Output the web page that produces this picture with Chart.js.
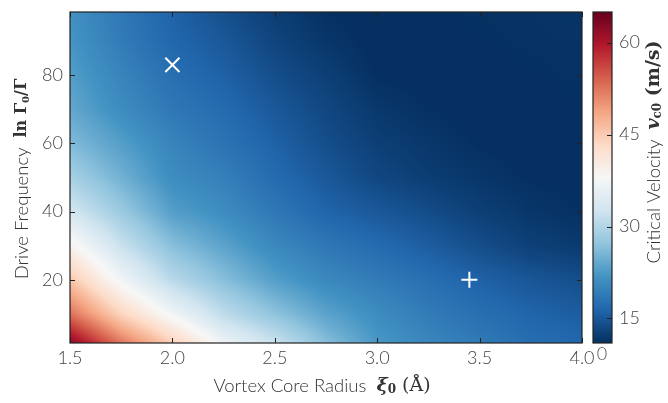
<!DOCTYPE html>
<html>
<head>
<meta charset="utf-8">
<script src="https://cdn.jsdelivr.net/npm/chart.js@4.4.1/dist/chart.umd.min.js"></script>
<style>
  html, body { margin: 0; padding: 0; background: #fff; }
</style>
</head>
<body>
<canvas id="chart" width="668" height="403"></canvas>
<script>
// grid nodes
const radiusNodes = [1.5, 1.75, 2.0, 2.25, 2.5, 2.75, 3.0, 3.25, 3.5, 3.75, 4.0];
const frequencyNodes = [100, 90, 80, 70, 60, 50, 40, 30, 20, 10, 0];
// critical velocity (m/s), one row per frequency node, top row first
const velocity = [
    [21.5, 18.5, 16.0, 14.0, 12.3, 11.0, 10.8, 11.0, 11.2, 11.3, 11.5],
    [22.0, 19.0, 16.5, 15.0, 13.0, 11.6, 10.7, 10.8, 11.0, 11.2, 11.3],
    [23.0, 20.0, 17.5, 15.9, 14.0, 12.5, 11.0, 10.7, 10.8, 11.0, 11.2],
    [24.0, 21.0, 18.5, 17.0, 15.0, 13.3, 11.8, 11.1, 10.7, 10.8, 11.0],
    [26.0, 23.0, 20.0, 18.0, 16.0, 14.0, 12.5, 11.7, 11.0, 10.7, 10.8],
    [29.0, 25.0, 21.0, 19.5, 17.0, 15.0, 13.3, 12.3, 11.6, 11.0, 10.8],
    [33.0, 28.0, 23.0, 21.0, 18.5, 16.3, 15.0, 13.8, 12.5, 11.6, 11.1],
    [39.0, 32.0, 26.5, 23.5, 20.5, 18.5, 17.0, 15.5, 14.0, 12.6, 12.0],
    [45.5, 37.0, 30.5, 26.5, 23.0, 20.5, 19.0, 17.5, 16.0, 14.8, 14.0],
    [53.0, 44.0, 37.0, 31.0, 27.0, 23.5, 21.0, 19.0, 17.5, 16.3, 15.5],
    [64.0, 54.0, 46.0, 37.5, 33.0, 27.0, 22.5, 20.5, 19.0, 17.5, 16.8]
];

// markers
const crossPoint = [{ x: 2.0, y: 83 }];
const plusPoint = [{ x: 3.45, y: 20 }];

// axes
const xTicks = [1.5, 2.0, 2.5, 3.0, 3.5, 4.0];
const yTicks = [20, 40, 60, 80];
const cbTicks = [15, 30, 45, 60];
const xRange = [1.5, 4.0];
const yRange = [1.5, 98.5];
const cbRange = [11, 65];

// RdBu reversed
const cmap = ['#053061', '#2166ac', '#4393c3', '#92c5de', '#d1e5f0', '#f7f7f7',
              '#fddbc7', '#f4a582', '#d6604d', '#b2182b', '#67001f'].map(h => [
    parseInt(h.slice(1, 3), 16), parseInt(h.slice(3, 5), 16), parseInt(h.slice(5, 7), 16)]);

function colorFor(v) {
    let t = (v - cbRange[0]) / (cbRange[1] - cbRange[0]);
    t = Math.max(0, Math.min(1, t)) * (cmap.length - 1);
    const i = Math.min(Math.floor(t), cmap.length - 2);
    const f = t - i;
    const a = cmap[i], b = cmap[i + 1];
    return [a[0] + (b[0] - a[0]) * f, a[1] + (b[1] - a[1]) * f, a[2] + (b[2] - a[2]) * f];
}

function findIndex(nodes, v) {
    // returns [index, fraction] between nodes[i] and nodes[i+1]
    for (let i = 0; i < nodes.length - 1; i++) {
        const lo = Math.min(nodes[i], nodes[i + 1]), hi = Math.max(nodes[i], nodes[i + 1]);
        if (v >= lo && v <= hi) return [i, (v - nodes[i]) / (nodes[i + 1] - nodes[i])];
    }
    return v < nodes[0] === nodes[0] < nodes[1] ? [0, 0] : [nodes.length - 2, 1];
}

function sampleVelocity(r, f) {
    const [ci, cf] = findIndex(radiusNodes, r);
    const [ri, rf] = findIndex(frequencyNodes, f);
    const v00 = velocity[ri][ci], v01 = velocity[ri][ci + 1];
    const v10 = velocity[ri + 1][ci], v11 = velocity[ri + 1][ci + 1];
    const top = v00 + (v01 - v00) * cf;
    const bot = v10 + (v11 - v10) * cf;
    return top + (bot - top) * rf;
}

const lightFont = "Lato, 'Open Sans', sans-serif";
const serifFont = "'DejaVu Serif', 'Liberation Serif', serif";

function drawParts(ctx, parts, cx, cy, rotate) {
    ctx.save();
    ctx.translate(cx, cy);
    if (rotate) ctx.rotate(-Math.PI / 2);
    let total = 0;
    parts.forEach(p => { ctx.font = p.font; p.w = ctx.measureText(p.text).width; total += p.w; });
    let xPos = -total / 2;
    ctx.textBaseline = 'middle';
    ctx.textAlign = 'left';
    ctx.fillStyle = '#333';
    parts.forEach(p => { ctx.font = p.font; ctx.fillText(p.text, xPos, p.dy || 0); xPos += p.w; });
    ctx.restore();
}

const heatmapPlugin = {
    id: 'heatmap',
    beforeDatasetsDraw(chart) {
        const { ctx, chartArea: a, scales } = chart;
        const w = Math.round(a.right - a.left), h = Math.round(a.bottom - a.top);
        const off = document.createElement('canvas');
        off.width = w; off.height = h;
        const octx = off.getContext('2d');
        const img = octx.createImageData(w, h);
        for (let py = 0; py < h; py++) {
            const fv = scales.y.getValueForPixel(a.top + py + 0.5);
            for (let px = 0; px < w; px++) {
                const rv = scales.x.getValueForPixel(a.left + px + 0.5);
                const c = colorFor(sampleVelocity(rv, fv));
                const k = (py * w + px) * 4;
                img.data[k] = c[0]; img.data[k + 1] = c[1]; img.data[k + 2] = c[2]; img.data[k + 3] = 255;
            }
        }
        octx.putImageData(img, 0, 0);
        ctx.drawImage(off, a.left, a.top);

        // colour bar
        const cb = scales.cb;
        const bx = a.right + 11, bw = 19;
        for (let py = Math.round(cb.top); py < Math.round(cb.bottom); py++) {
            const c = colorFor(cb.getValueForPixel(py + 0.5));
            ctx.fillStyle = `rgb(${c[0] | 0},${c[1] | 0},${c[2] | 0})`;
            ctx.fillRect(bx, py, bw, 1);
        }
    },
    afterDraw(chart) {
        const { ctx, chartArea: a, scales } = chart;
        ctx.save();
        ctx.strokeStyle = '#222';
        ctx.lineWidth = 1.2;
        ctx.strokeRect(a.left, a.top, a.right - a.left, a.bottom - a.top);
        ctx.lineWidth = 1;
        ctx.beginPath();
        xTicks.forEach(v => {
            const px = Math.round(scales.x.getPixelForValue(v)) + 0.5;
            ctx.moveTo(px, a.bottom); ctx.lineTo(px, a.bottom - 5);
            ctx.moveTo(px, a.top); ctx.lineTo(px, a.top + 5);
        });
        yTicks.forEach(v => {
            const py = Math.round(scales.y.getPixelForValue(v)) + 0.5;
            ctx.moveTo(a.left, py); ctx.lineTo(a.left + 5, py);
            ctx.moveTo(a.right, py); ctx.lineTo(a.right - 5, py);
        });
        const bx = a.right + 11, bw = 19;
        cbTicks.forEach(v => {
            const py = Math.round(scales.cb.getPixelForValue(v)) + 0.5;
            ctx.moveTo(bx + bw, py); ctx.lineTo(bx + bw - 5, py);
        });
        ctx.stroke();
        ctx.lineWidth = 1.2;
        ctx.strokeRect(bx, scales.cb.top, bw, scales.cb.bottom - scales.cb.top);

        ctx.fillStyle = '#555';
        ctx.font = `300 18px ${lightFont}`;
        ctx.textAlign = 'center';
        ctx.textBaseline = 'middle';
        ctx.fillText('0', bx + 9, a.bottom + 11);
        ctx.restore();

        drawParts(ctx, [
            { text: 'Vortex Core Radius  ', font: `300 18.5px ${lightFont}` },
            { text: 'ξ', font: `italic bold 19px ${serifFont}` },
            { text: '0', font: `bold 12px ${serifFont}`, dy: 4 },
            { text: ' (Å)', font: `19px ${serifFont}` }
        ], 322, 386, false);

        drawParts(ctx, [
            { text: 'Drive Frequency  ', font: `300 18.5px ${lightFont}` },
            { text: 'ln Γ', font: `bold 16px ${serifFont}` },
            { text: '0', font: `bold 10px ${serifFont}`, dy: 4 },
            { text: '/Γ', font: `bold 16px ${serifFont}` }
        ], 22, 179, true);

        drawParts(ctx, [
            { text: 'Critical Velocity  ', font: `300 18.5px ${lightFont}` },
            { text: 'v', font: `italic bold 19px ${serifFont}` },
            { text: 'c0', font: `bold 12px ${serifFont}`, dy: 4 },
            { text: ' (m/s)', font: `bold 19px ${serifFont}` }
        ], 654, 152, true);
    }
};

const tickFont = { family: lightFont, size: 18, weight: '300' };
// invisible tick marks push the labels out without adding layout padding
const hiddenTicks = len => ({ display: true, drawOnChartArea: false, drawTicks: true, tickLength: len, color: 'rgba(0,0,0,0)' });

new Chart(document.getElementById('chart').getContext('2d'), {
    type: 'scatter',
    data: {
        datasets: [{
            data: crossPoint,
            pointStyle: 'crossRot',
            radius: 10,
            borderWidth: 2,
            borderColor: '#fff'
        }, {
            data: plusPoint,
            pointStyle: 'cross',
            radius: 8,
            borderWidth: 2,
            borderColor: '#fff'
        }]
    },
    options: {
        responsive: false,
        animation: false,
        events: [],
        layout: { padding: { top: 10, left: 0, right: 0, bottom: 0 } },
        plugins: { legend: { display: false }, tooltip: { enabled: false } },
        scales: {
            x: {
                type: 'linear',
                min: xRange[0],
                max: xRange[1],
                grid: hiddenTicks(3),
                border: { display: false },
                ticks: { font: tickFont, color: '#444', padding: 1, callback: v => v.toFixed(1) },
                afterBuildTicks: s => { s.ticks = xTicks.map(v => ({ value: v })); },
                afterFit: s => { s.height = 60; }
            },
            y: {
                type: 'linear',
                position: 'left',
                min: yRange[0],
                max: yRange[1],
                grid: hiddenTicks(7),
                border: { display: false },
                ticks: { font: tickFont, color: '#444', padding: 0 },
                afterBuildTicks: s => { s.ticks = yTicks.map(v => ({ value: v })); },
                afterFit: s => { s.width = 70; }
            },
            cb: {
                type: 'linear',
                axis: 'y',
                position: 'right',
                min: cbRange[0],
                max: cbRange[1],
                grid: hiddenTicks(37),
                border: { display: false },
                ticks: { font: tickFont, color: '#444', padding: 0 },
                afterBuildTicks: s => { s.ticks = cbTicks.map(v => ({ value: v })); },
                afterFit: s => { s.width = 86; }
            }
        }
    },
    plugins: [heatmapPlugin]
});
</script>
</body>
</html>
